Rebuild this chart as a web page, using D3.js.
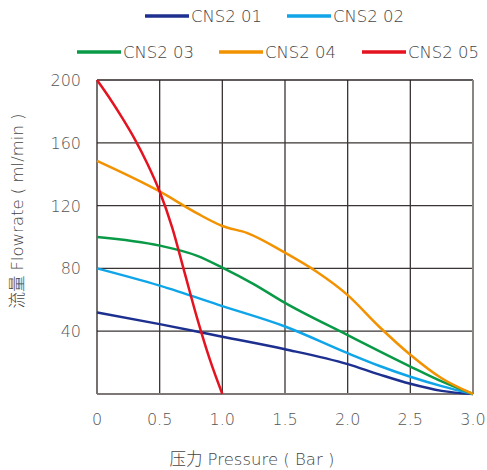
<!DOCTYPE html>
<html>
<head>
<meta charset="utf-8">
<script src="https://cdn.jsdelivr.net/npm/d3@7"></script>
<style>
  body { margin: 0; background: #fff; }
  text { font-family: "DejaVu Sans", "Liberation Sans", sans-serif; font-weight: 200; }
  .cjk { font-family: "Noto Sans CJK SC", sans-serif; font-weight: 300; }
</style>
</head>
<body>
<svg id="chart" width="487" height="470"></svg>
<script>
// series: [pressure (Bar), flow (ml/min)]
const cns01 = [[0, 52], [0.5, 44.5], [1.0, 36.5], [1.5, 28.5], [2.0, 19], [2.25, 12.5], [2.5, 6.5], [2.75, 2], [3.0, 0]];
const cns02 = [[0, 80], [0.5, 69], [1.0, 56], [1.5, 43], [2.0, 26], [2.25, 18], [2.5, 11], [2.75, 5], [3.0, 0]];
const cns03 = [[0, 100], [0.5, 94.5], [0.8, 88], [1.0, 80.5], [1.25, 70], [1.5, 58], [2.0, 37.5], [2.5, 17.5], [2.75, 8], [3.0, 0]];
const cns04 = [[0, 148.5], [0.5, 129], [0.8, 115], [1.0, 107], [1.2, 102.5], [1.5, 90], [1.75, 78], [2.0, 63], [2.25, 43], [2.5, 25], [2.75, 10], [3.0, 0]];
const cns05 = [[0, 200], [0.1, 188.5], [0.2, 176], [0.3, 162.5], [0.4, 147], [0.5, 129], [0.6, 106], [0.7, 77], [0.8, 48], [0.9, 22], [1.0, 0]];

const seriesNames = ["CNS2 01", "CNS2 02", "CNS2 03", "CNS2 04", "CNS2 05"];
const seriesData = [cns01, cns02, cns03, cns04, cns05];
const colors = ["#1d2f8f", "#0fa5e8", "#0a9a47", "#f39200", "#e5121f"];

const xTicks = [0, 0.5, 1.0, 1.5, 2.0, 2.5, 3.0];
const xTickLabels = ["0", "0.5", "1.0", "1.5", "2.0", "2.5", "3.0"];
const yTicks = [40, 80, 120, 160, 200];

const svg = d3.select("#chart");

let x = d3.scaleLinear().domain([0, 3]).range([97, 473]);
let y = d3.scaleLinear().domain([0, 200]).range([394, 80]);

// grid
svg.append("g")
    .selectAll("line")
    .data(xTicks.slice(1, -1))
    .enter().append("line")
    .attr("x1", d => x(d)).attr("x2", d => x(d))
    .attr("y1", y(200)).attr("y2", y(0))
    .attr("stroke", "#3a3434").attr("stroke-width", 1.3)

svg.append("g")
    .selectAll("line")
    .data(yTicks.slice(0, -1))
    .enter().append("line")
    .attr("x1", x(0)).attr("x2", x(3))
    .attr("y1", d => y(d)).attr("y2", d => y(d))
    .attr("stroke", "#3a3434").attr("stroke-width", 1.3)

// frame
svg.append("line").attr("x1", x(0)).attr("x2", x(3)).attr("y1", y(200)).attr("y2", y(200))
    .attr("stroke", "#2a2424").attr("stroke-width", 1.3)
svg.append("line").attr("x1", x(0)).attr("x2", x(0)).attr("y1", y(200)).attr("y2", y(0))
    .attr("stroke", "#2a2424").attr("stroke-width", 1.3)
svg.append("line").attr("x1", x(3)).attr("x2", x(3)).attr("y1", y(200)).attr("y2", y(0))
    .attr("stroke", "#8a8582").attr("stroke-width", 2)
svg.append("line").attr("x1", x(0)).attr("x2", x(3)).attr("y1", y(0)).attr("y2", y(0))
    .attr("stroke", "#7d7877").attr("stroke-width", 2)

// tick labels
svg.append("g")
    .selectAll("text")
    .data(xTicks)
    .enter().append("text")
    .attr("x", d => x(d)).attr("y", 425)
    .attr("text-anchor", "middle")
    .attr("font-size", 16).attr("fill", "#555")
    .text((d, i) => xTickLabels[i])

svg.append("g")
    .selectAll("text")
    .data(yTicks)
    .enter().append("text")
    .attr("x", 81).attr("y", d => y(d) + 6)
    .attr("text-anchor", "end")
    .attr("font-size", 16).attr("fill", "#555")
    .text(d => d)

// axis titles
let xt = svg.append("text")
    .attr("x", 252).attr("y", 465)
    .attr("text-anchor", "middle")
    .attr("font-size", 16.5).attr("fill", "#444")
xt.append("tspan").attr("class", "cjk").text("压力")
xt.append("tspan").attr("dx", 5).text("Pressure ( Bar )")

let yt = svg.append("text")
    .attr("transform", "translate(23,211) rotate(-90)")
    .attr("text-anchor", "middle")
    .attr("font-size", 16.5).attr("fill", "#444")
yt.append("tspan").attr("class", "cjk").text("流量")
yt.append("tspan").attr("dx", 5).text("Flowrate ( ml/min )")

// curves
let line = d3.line()
    .x(d => x(d[0]))
    .y(d => y(d[1]))
    .curve(d3.curveMonotoneX);

svg.append("g")
    .selectAll("path")
    .data(seriesData)
    .enter().append("path")
    .attr("d", line)
    .attr("fill", "none")
    .attr("stroke", (d, i) => colors[i])
    .attr("stroke-width", 2.5)

// legend
const legendPos = [[145, 16], [287, 16], [77, 52], [219, 52], [362, 52]];
let legend = svg.append("g")
    .selectAll("g")
    .data(seriesNames)
    .enter().append("g")
    .attr("transform", (d, i) => "translate(" + legendPos[i][0] + "," + legendPos[i][1] + ")")

legend.append("line")
    .attr("x1", 0).attr("x2", 44)
    .attr("stroke", (d, i) => colors[i])
    .attr("stroke-width", 3.5)

legend.append("text")
    .attr("x", 46).attr("y", 6)
    .attr("font-size", 16.5).attr("fill", "#444")
    .text(d => d)
</script>
</body>
</html>
